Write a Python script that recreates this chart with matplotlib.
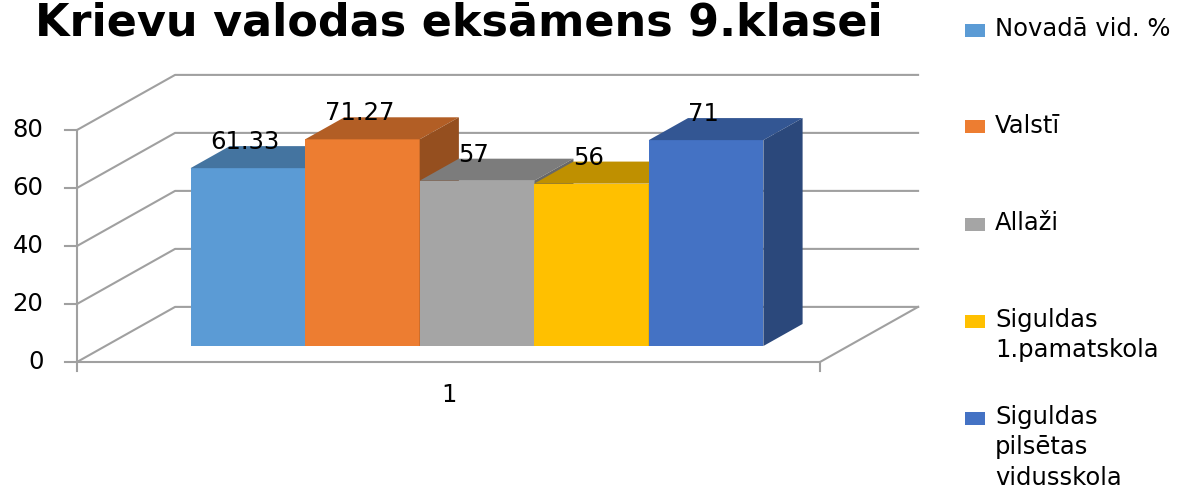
import matplotlib
matplotlib.use('Agg')
import matplotlib.pyplot as plt
from matplotlib.patches import Polygon, Rectangle
import numpy as np

# data
title = 'Krievu valodas eksāmens 9.klasei'
series = ['Novadā vid. %', 'Valstī', 'Allaži',
          'Siguldas\n1.pamatskola', 'Siguldas\npilsētas\nvidusskola']
values = [61.33, 71.27, 57, 56, 71]
labels = ['61.33', '71.27', '57', '56', '71']
category = 1
y_ticks = [0, 20, 40, 60, 80]

colors = ['#5B9BD5', '#ED7D31', '#A5A5A5', '#FFC000', '#4472C4']

plt.rcParams['font.family'] = ['DejaVu Sans']

# oblique projection settings (depth goes right and up)
DX = 0.132   # x shift for full depth (category units)
DY = 19.0    # y shift for full depth (value units)
ZF = 0.29    # depth of bar front face
ZB = 0.69    # depth of bar back face
BW = 0.1542  # bar width
FS = 17.5    # font size of small texts


def proj(x, v, z):
    """project a point (x, value, depth) onto the 2d axes"""
    return x + z * DX, v + z * DY


def shade(c, f):
    rgb = np.array(matplotlib.colors.to_rgb(c)) * f
    return tuple(rgb)


fig = plt.figure(figsize=(11.98, 4.91), dpi=100)
ax = fig.add_axes([0, 0, 1, 1])
x0 = 0.5 - 77 / 743
ax.set_xlim(x0, x0 + 1198 / 743)
y1 = 362 / 2.9
ax.set_ylim(y1 - 491 / 2.9, y1)
ax.axis('off')

grid_c = '#A0A0A0'
lw = 1.5
left, right = category - 0.5, category + 0.5

# walls and floor
for v in y_ticks:
    p0 = proj(left, v, 0)
    p1 = proj(left, v, 1)
    p2 = proj(right, v, 1)
    ax.plot([p0[0], p1[0], p2[0]], [p0[1], p1[1], p2[1]],
            color=grid_c, lw=lw, zorder=1)
    # tick mark and tick label
    ax.plot([left - 0.016, left], [v, v], color=grid_c, lw=lw, zorder=1)
    ax.text(left - 0.045, v, str(v), ha='right', va='center', fontsize=FS)

ax.plot([left, left], [-3, y_ticks[-1]], color=grid_c, lw=lw, zorder=1)
f1 = proj(right, 0, 1)
ax.plot([left, right, f1[0]], [0, 0, f1[1]], color=grid_c, lw=lw, zorder=1)
ax.plot([right, right], [0, -3], color=grid_c, lw=lw, zorder=1)

ax.text(category, -11.5, str(category), ha='center', va='center',
        fontsize=FS)

# bars: front faces through ax.bar, then top and side faces
centres = category + (np.arange(len(values)) - 2) * BW
bars = ax.bar(centres + ZF * DX, values, width=BW, bottom=ZF * DY,
              color=colors, linewidth=0)
for i, (c, v) in enumerate(zip(centres, values)):
    xl, xr = c - BW / 2, c + BW / 2
    bars[i].set_zorder(2 + i)
    top = [proj(xl, v, ZF), proj(xr, v, ZF), proj(xr, v, ZB),
           proj(xl, v, ZB)]
    side = [proj(xr, 0, ZF), proj(xr, v, ZF), proj(xr, v, ZB),
            proj(xr, 0, ZB)]
    ax.add_patch(Polygon(top, closed=True, fc=shade(colors[i], 0.75),
                         ec='none', zorder=2 + i))
    ax.add_patch(Polygon(side, closed=True, fc=shade(colors[i], 0.63),
                         ec='none', zorder=2 + i))

for i, (c, v) in enumerate(zip(centres, values)):
    px, py = proj(c, v, ZF)
    ax.text(px - 0.004, py + 6.5, labels[i], ha='center', va='baseline',
            fontsize=FS, zorder=20)

# title
fig.text(35 / 1198, 1 - 35 / 491, title, ha='left', va='baseline',
         fontsize=32, fontweight='bold')

# legend drawn by hand to keep Excel's even spacing
for i, name in enumerate(series):
    yc = 30 + i * 97
    fig.patches.append(Rectangle((965 / 1198, 1 - (yc + 6.5) / 491),
                                 20 / 1198, 13 / 491, fc=colors[i],
                                 ec='none', transform=fig.transFigure))
    fig.text(995 / 1198, 1 - (yc - 13) / 491, name, ha='left', va='top',
             fontsize=FS, linespacing=1.33)

fig.savefig('out.png', dpi=100)
